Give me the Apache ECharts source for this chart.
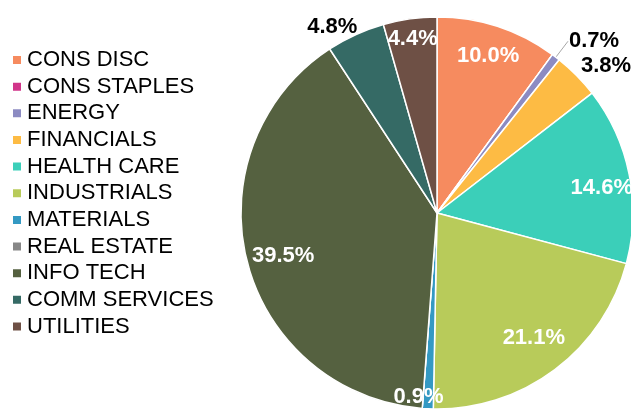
<!DOCTYPE html>
<html><head><meta charset="utf-8">
<script src="https://cdn.jsdelivr.net/npm/echarts@6/dist/echarts.min.js"></script>
<style>html,body{margin:0;padding:0;background:#fff}#c{width:631px;height:411px}</style>
</head><body><div id="c"></div>
<script>
const categories = ['CONS DISC','CONS STAPLES','ENERGY','FINANCIALS','HEALTH CARE','INDUSTRIALS','MATERIALS','REAL ESTATE','INFO TECH','COMM SERVICES','UTILITIES'];
const values = [10.0, 0, 0.7, 3.8, 14.6, 21.1, 0.9, 0, 39.5, 4.8, 4.4];
const colors = ['#F68B5F','#D1358A','#8C8BC2','#FDBB44','#3BCFB9','#B8CB5A','#3499C3','#878787','#556140','#356A65','#6E5045'];
// label placement styling (not data)
const outsideIdx = {2:{len:20,d:1,line:true},3:{len:13,d:-5,line:false},9:{len:8,d:-5,line:false}};
const insideGroups = [
  {r0:128, idx:[0,4,8]},
  {r0:110, idx:[5]},
  {r0:150, idx:[10]},
  {r0:160, idx:[6]}
];
const labelShift = {4:{dx:3,dy:7}, 6:{dx:-10,dy:3}, 5:{dx:3,dy:0}, 8:{dx:6,dy:2}};
const FONT = '"Liberation Sans", Arial, sans-serif';
const CENTER = [437, 213], R = 196;

const mainData = categories.map((n,i)=>{
  const o = outsideIdx[i];
  return {
    name:n, value:values[i],
    itemStyle:{color:colors[i]},
    label: o ? {show:true, distanceToLabelLine:o.d} : {show:false},
    labelLine: o ? {show:o.line, length:o.len, length2:0, lineStyle:{color:'#a6a6a6', width:1}} : {show:false}
  };
});

const series = [{
  type:'pie', center:CENTER, radius:R, startAngle:90, clockwise:true,
  avoidLabelOverlap:false, silent:true, animation:false,
  itemStyle:{borderColor:'#fff', borderWidth:1.5},
  label:{position:'outside', formatter:p=>p.value.toFixed(1)+'%', fontFamily:FONT, fontSize:22, fontWeight:'bold', color:'#000'},
  emphasis:{disabled:true},
  data:mainData
}];
insideGroups.forEach(g=>{
  series.push({
    type:'pie', center:CENTER, radius:[g.r0,R], startAngle:90, clockwise:true,
    avoidLabelOverlap:false, silent:true, animation:false,
    itemStyle:{color:'rgba(0,0,0,0)', borderWidth:0},
    label:{position:'inside', formatter:p=>p.value.toFixed(1)+'%', fontFamily:FONT, fontSize:22, fontWeight:'bold', color:'#fff'},
    labelLine:{show:false},
    labelLayout:p=>labelShift[p.dataIndex] || {},
    emphasis:{disabled:true},
    data:categories.map((n,i)=>({name:n, value:values[i], label:{show:g.idx.includes(i)}}))
  });
});

const chart = echarts.init(document.getElementById('c'), null, {renderer:'canvas'});
chart.setOption({
  animation:false,
  color:colors,
  legend:{
    orient:'vertical', left:11, top:49, padding:0, itemGap:4.65,
    itemWidth:10, itemHeight:10, icon:'rect', selectedMode:false,
    data:categories.map((n,i)=>({name:n, itemStyle:{color:colors[i]}})),
    textStyle:{fontFamily:FONT, fontSize:22, color:'#000', lineHeight:22}
  },
  series:series
});
</script></body></html>
